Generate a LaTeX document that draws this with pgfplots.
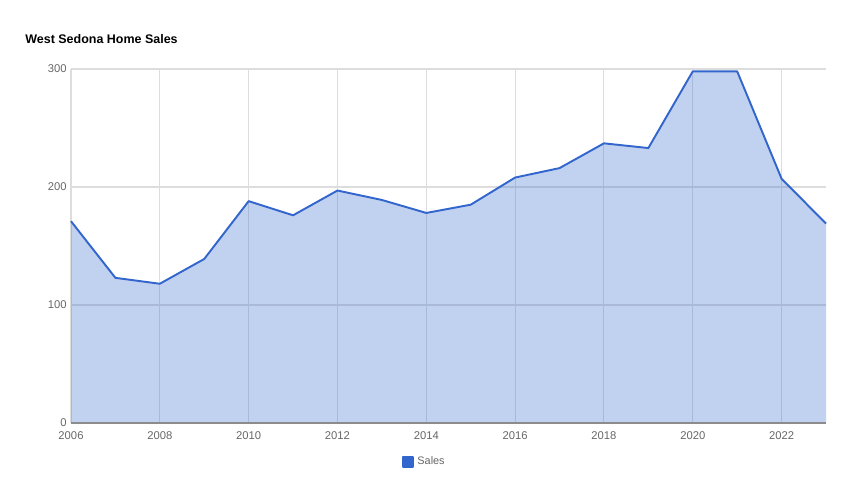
\documentclass[border=0pt]{standalone}
\usepackage{pgfplots}
\pgfplotsset{compat=1.18}
\usepackage{fontspec}
\setmainfont{Liberation Sans}
\definecolor{lineblue}{HTML}{3366CC}
\definecolor{gridgray}{HTML}{DDDDDD}
\definecolor{ticktext}{HTML}{666666}

\pgfplotstableread{
year sales
2006 171
2007 123
2008 118
2009 139
2010 188
2011 176
2012 197
2013 189
2014 178
2015 185
2016 208
2017 216
2018 237
2019 233
2020 298
2021 298
2022 207
2023 169
}\salesdata

\begin{document}
\begin{tikzpicture}
\path[use as bounding box] (0,0) rectangle (17cm,10cm);
\node[anchor=base west, inner sep=0pt, font=\fontsize{7.1}{9}\selectfont\bfseries] at (0.5cm,9.12cm) {West Sedona Home Sales};
\begin{axis}[
  at={(1.42cm,1.54cm)}, anchor=south west,
  width=15.1cm, height=7.08cm, scale only axis,
  xmin=2006, xmax=2023, ymin=0, ymax=300,
  xtick={2006,2008,...,2022}, ytick={0,100,200,300},
  grid=major, major grid style={gridgray, line width=0.6pt},
  axis line style={draw=none},
  tick style={draw=none},
  /pgf/number format/1000 sep={},
  /pgf/number format/assume math mode=true,
  tick label style={font=\fontsize{6.4}{7}\selectfont, text=ticktext},
  xticklabel style={yshift=-1.5pt},
  yticklabel style={xshift=1pt},
  legend style={at={(0.469,-0.11)}, anchor=center, draw=none, fill=none,
    font=\fontsize{6.2}{7}\selectfont\color{ticktext}},
  legend image code/.code={\fill[lineblue] (0cm,-0.1cm) rectangle (0.2cm,0.1cm);},
  clip=false,
]
\addplot[draw=none, fill=lineblue, fill opacity=0.3, forget plot] table[x=year, y=sales] {\salesdata} \closedcycle;
\addplot[lineblue, line width=1.1pt, line join=round] table[x=year, y=sales] {\salesdata};
\addlegendentry{Sales}
\draw[color=gray!90, line width=1.3pt] (axis cs:2006,0) -- (axis cs:2023,0);
\end{axis}
\end{tikzpicture}
\end{document}
